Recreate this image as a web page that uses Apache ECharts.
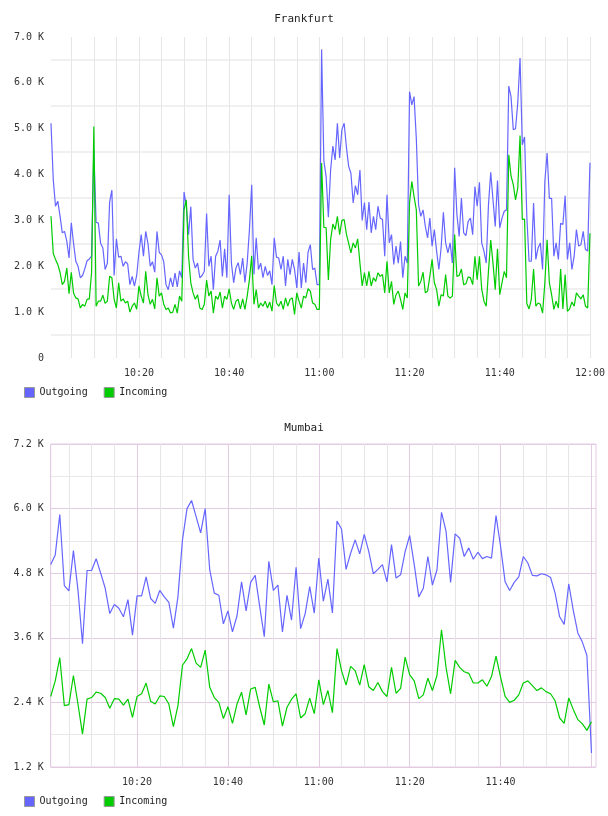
<!DOCTYPE html>
<html>
<head>
<meta charset="utf-8">
<title>Frankfurt / Mumbai</title>
<script src="https://cdn.jsdelivr.net/npm/echarts@6/dist/echarts.min.js"></script>
<style>
html, body { margin: 0; padding: 0; background: #fff; }
#main { width: 608px; height: 816px; }
</style>
</head>
<body>
<div id="main"></div>
<script>
// sample times in minutes after midnight
var fraStart = 600.5, fraStep = 0.5;   // Frankfurt: every 30 s from 10:00:30
var mumStart = 601, mumStep = 1;       // Mumbai: every minute from 10:01

// values in K
var fraOut = [
  5.12,3.89,3.31,3.42,3.10,2.73,2.76,2.55,2.18,2.95,
  2.50,2.11,2.00,1.75,1.80,1.95,2.12,2.16,2.22,4.54,
  2.96,2.94,2.50,2.40,1.93,2.07,3.40,3.66,1.80,2.60,
  2.20,2.22,2.00,2.10,2.05,1.60,1.78,1.57,1.80,2.30,
  2.69,2.22,2.76,2.50,2.00,2.10,1.87,2.76,2.30,2.25,
  2.10,1.60,1.49,1.75,1.55,1.85,1.55,1.90,1.75,3.62,
  3.31,2.69,3.30,2.15,1.96,2.07,1.75,1.80,1.89,3.15,
  2.00,2.22,1.49,2.22,2.33,2.57,1.78,2.38,1.75,3.56,
  2.07,1.64,1.96,2.08,1.82,2.18,1.65,2.07,2.80,3.78,
  1.82,2.62,1.93,2.07,1.75,2.00,1.80,1.90,1.60,2.62,
  2.20,2.18,1.93,2.22,1.57,2.15,1.82,2.15,1.93,1.53,
  2.31,1.53,2.07,1.64,2.31,2.47,1.93,1.96,1.60,1.60,
  6.73,4.30,3.96,3.07,4.10,4.62,4.32,5.12,4.36,4.98,
  5.12,4.60,4.18,4.03,3.38,3.76,3.56,4.10,3.00,3.39,
  2.80,3.40,2.73,3.09,2.80,3.31,3.05,3.02,2.22,3.56,
  2.51,2.69,2.04,2.44,2.07,2.54,1.75,2.22,2.07,5.81,
  5.52,5.70,4.79,3.34,3.09,3.23,2.87,2.62,3.05,2.44,
  2.80,2.33,1.93,2.40,3.18,2.51,2.29,2.51,2.07,4.15,
  3.13,2.65,3.49,2.73,2.67,2.98,3.05,2.69,3.74,3.31,
  3.83,2.51,2.33,2.07,3.34,4.05,3.45,2.87,3.87,2.84,
  3.05,3.20,3.23,5.93,5.70,4.98,5.00,5.57,6.54,4.65,
  4.82,3.09,2.11,2.11,3.38,2.15,2.40,2.51,1.93,3.85,
  4.47,3.48,3.48,2.22,2.51,2.15,2.94,2.91,3.54,2.15,
  2.51,1.93,2.22,2.80,2.44,2.47,2.76,2.37,2.33,4.26
];
var fraIn = [
  3.09,2.28,2.15,2.04,1.87,1.60,1.67,1.96,1.40,1.87,
  1.42,1.31,1.29,1.09,1.17,1.13,1.28,1.29,1.87,5.05,
  1.13,1.24,1.24,1.37,1.19,1.24,1.78,1.75,1.28,1.09,
  1.64,1.24,1.29,1.20,1.24,1.00,1.13,1.20,1.06,1.57,
  1.35,1.20,1.89,1.38,1.17,1.28,1.07,1.75,1.35,1.42,
  1.17,1.06,1.09,0.98,1.00,1.17,0.98,1.35,1.24,3.23,
  3.45,2.22,1.64,1.42,1.28,1.38,1.09,1.06,1.17,1.70,
  1.35,1.46,0.98,1.35,1.28,1.44,1.09,1.35,1.28,1.51,
  1.20,1.06,1.24,1.28,1.07,1.29,1.06,1.35,1.71,2.23,
  1.17,1.49,1.09,1.20,1.13,1.24,1.09,1.22,1.02,1.58,
  1.20,1.13,1.24,1.06,1.31,1.13,1.28,1.31,0.95,1.42,
  1.24,1.09,1.35,1.31,1.51,1.46,1.20,1.17,1.06,1.06,
  4.25,2.85,2.84,1.70,2.58,2.92,2.80,3.09,2.69,3.00,
  3.02,2.70,2.50,2.29,2.51,2.40,2.60,2.07,1.57,1.86,
  1.57,1.89,1.57,1.75,1.67,1.86,1.78,1.82,1.42,2.11,
  1.42,1.67,1.17,1.38,1.46,1.28,1.06,1.42,1.31,3.38,
  3.85,3.52,3.23,1.57,1.67,1.87,1.42,1.46,1.78,2.15,
  1.64,1.49,1.13,1.38,1.35,1.82,1.35,1.31,1.35,2.69,
  1.78,1.80,1.94,1.60,1.62,1.77,1.75,1.60,2.22,1.71,
  2.22,1.50,1.24,1.13,1.90,2.57,2.07,1.49,2.38,1.38,
  1.64,1.89,1.75,4.43,3.97,3.78,3.45,3.71,4.85,3.02,
  3.03,1.19,1.07,1.28,1.94,1.13,1.20,1.17,0.98,1.64,
  2.58,1.64,1.38,1.06,1.24,1.09,1.94,1.07,1.82,1.02,
  1.07,1.22,1.13,1.42,1.35,1.29,1.38,1.13,1.09,2.72
];
var mumOut = [
  4.96,5.14,5.89,4.57,4.47,5.22,4.49,3.49,4.85,4.85,
  5.07,4.80,4.52,4.05,4.22,4.15,3.99,4.31,3.65,4.38,
  4.38,4.73,4.33,4.24,4.48,4.36,4.26,3.78,4.36,5.42,
  6.00,6.15,5.85,5.55,6.00,4.86,4.43,4.39,3.86,4.10,
  3.71,4.01,4.64,4.10,4.63,4.76,4.18,3.62,5.02,4.48,
  4.58,3.71,4.39,3.93,4.91,3.77,4.05,4.55,4.06,5.08,
  4.28,4.69,4.06,5.77,5.62,4.87,5.17,5.42,5.16,5.52,
  5.20,4.79,4.87,4.96,4.64,5.33,4.71,4.77,5.20,5.50,
  4.96,4.36,4.52,5.11,4.58,4.86,5.93,5.58,4.63,5.53,
  5.45,5.11,5.27,5.06,5.19,5.07,5.11,5.08,5.87,5.30,
  4.64,4.48,4.63,4.73,5.11,4.99,4.76,4.75,4.79,4.77,
  4.72,4.43,3.99,3.85,4.60,4.11,3.69,3.52,3.27,1.46
];
var mumIn = [
  2.51,2.80,3.23,2.34,2.36,2.90,2.37,1.81,2.46,2.49,
  2.59,2.57,2.49,2.29,2.47,2.46,2.35,2.46,2.12,2.51,
  2.56,2.76,2.42,2.37,2.52,2.51,2.37,1.95,2.34,3.09,
  3.21,3.40,3.13,3.05,3.37,2.68,2.49,2.40,2.10,2.32,
  2.01,2.37,2.59,2.17,2.65,2.68,2.31,1.98,2.74,2.41,
  2.43,1.96,2.31,2.46,2.56,2.11,2.19,2.48,2.19,2.82,
  2.36,2.62,2.21,3.40,2.99,2.72,3.07,2.99,2.72,3.10,
  2.69,2.62,2.77,2.60,2.51,3.05,2.57,2.66,3.24,2.91,
  2.80,2.47,2.54,2.85,2.62,2.90,3.75,3.05,2.56,3.18,
  3.05,2.97,2.94,2.76,2.76,2.82,2.70,2.88,3.26,2.87,
  2.51,2.40,2.44,2.54,2.76,2.80,2.71,2.62,2.67,2.60,
  2.56,2.43,2.11,2.01,2.48,2.27,2.08,2.00,1.88,2.04
];

// labelled times on the x axes
var fraLabelTimes = [620, 640, 660, 680, 700, 720];
var mumLabelTimes = [620, 640, 660, 680, 700];

var mono = 'DejaVu Sans Mono';
var blue = '#6666ff', green = '#00cc00';

function pairs(start, step, vals) {
    return vals.map(function (v, i) { return [start + step * i, v]; });
}
function clock(m) {
    var h = Math.floor(m / 60), mm = Math.round(m % 60);
    return h + ':' + (mm < 10 ? '0' : '') + mm;
}
function timeLabel(list) {
    return function (v) {
        return list.indexOf(Math.round(v * 100) / 100) >= 0 ? clock(v) : '';
    };
}
function lineSeries(name, color, idx, data) {
    return {
        type: 'line', name: name,
        xAxisIndex: idx, yAxisIndex: idx,
        data: data,
        symbol: 'none', showSymbol: false,
        lineStyle: { color: color, width: 1.2 },
        itemStyle: { color: color },
        emphasis: { disabled: true }
    };
}
function legend(top) {
    return {
        left: 24, top: top, padding: 0,
        icon: 'rect', itemWidth: 10, itemHeight: 10,
        itemGap: 16, itemTextGap: 5,
        selectedMode: false,
        data: ['Outgoing', 'Incoming'],
        itemStyle: { borderColor: '#999', borderWidth: 1 },
        textStyle: { fontFamily: mono, fontSize: 10, color: '#222' }
    };
}

var labelStyle = { fontFamily: mono, fontSize: 10, color: '#333' };
var titleStyle = { fontFamily: mono, fontSize: 11, fontWeight: 'normal', color: '#222' };

var myChart = echarts.init(document.getElementById('main'), null, { renderer: 'canvas' });
myChart.setOption({
    animation: false,
    backgroundColor: '#fff',
    title: [
        { text: 'Frankfurt', left: 'center', top: 14, padding: 0, textStyle: titleStyle },
        { text: 'Mumbai', left: 'center', top: 423, padding: 0, textStyle: titleStyle }
    ],
    legend: [legend(387), legend(796)],
    grid: [
        { left: 51, top: 37, width: 540.7, height: 321 },
        { left: 50.7, top: 444, width: 545.3, height: 323,
          show: true, borderColor: '#e2cce2', borderWidth: 1 }
    ],
    xAxis: [
        {
            gridIndex: 0, type: 'value',
            min: 600.5, max: 720, splitNumber: 24, minInterval: 5, maxInterval: 5,
            axisLine: { show: false }, axisTick: { show: false },
            axisLabel: Object.assign({ formatter: timeLabel(fraLabelTimes), margin: 10 }, labelStyle),
            splitLine: { show: true, showMinLine: false, lineStyle: { color: '#e6e6e6', width: 1 } }
        },
        {
            gridIndex: 1, type: 'value',
            min: 601, max: 721, splitNumber: 24, minInterval: 5, maxInterval: 5,
            axisLine: { show: false }, axisTick: { show: false },
            axisLabel: Object.assign({ formatter: timeLabel(mumLabelTimes), margin: 10 }, labelStyle),
            splitLine: { show: true, showMaxLine: false,
                lineStyle: { color: ['#e2cce2', '#e6e6e6', '#e6e6e6', '#e6e6e6'], width: 1 } }
        }
    ],
    yAxis: [
        {
            gridIndex: 0, type: 'value',
            min: 0, max: 7, interval: 1,
            axisLine: { show: false }, axisTick: { show: false },
            axisLabel: Object.assign({
                margin: 7,
                formatter: function (v) { return v === 0 ? '0' : v.toFixed(1) + ' K'; }
            }, labelStyle),
            splitLine: { show: false },
            minorTick: { show: false, splitNumber: 2 },
            minorSplitLine: { show: true, lineStyle: { color: '#f0f0f0', width: 2 } }
        },
        {
            gridIndex: 1, type: 'value',
            min: 1.2, max: 7.2, interval: 0.6,
            axisLine: { show: false }, axisTick: { show: false },
            axisLabel: Object.assign({
                margin: 7,
                formatter: function (v) {
                    var k = Math.round(v * 10);
                    return k % 12 === 0 ? (k / 10).toFixed(1) + ' K' : '';
                }
            }, labelStyle),
            splitLine: { show: true, lineStyle: { color: ['#e2cce2', '#e8e8e8'], width: 1 } }
        }
    ],
    series: [
        lineSeries('Outgoing', blue, 0, pairs(fraStart, fraStep, fraOut)),
        lineSeries('Incoming', green, 0, pairs(fraStart, fraStep, fraIn)),
        lineSeries('Outgoing', blue, 1, pairs(mumStart, mumStep, mumOut)),
        lineSeries('Incoming', green, 1, pairs(mumStart, mumStep, mumIn))
    ]
});
</script>
</body>
</html>
